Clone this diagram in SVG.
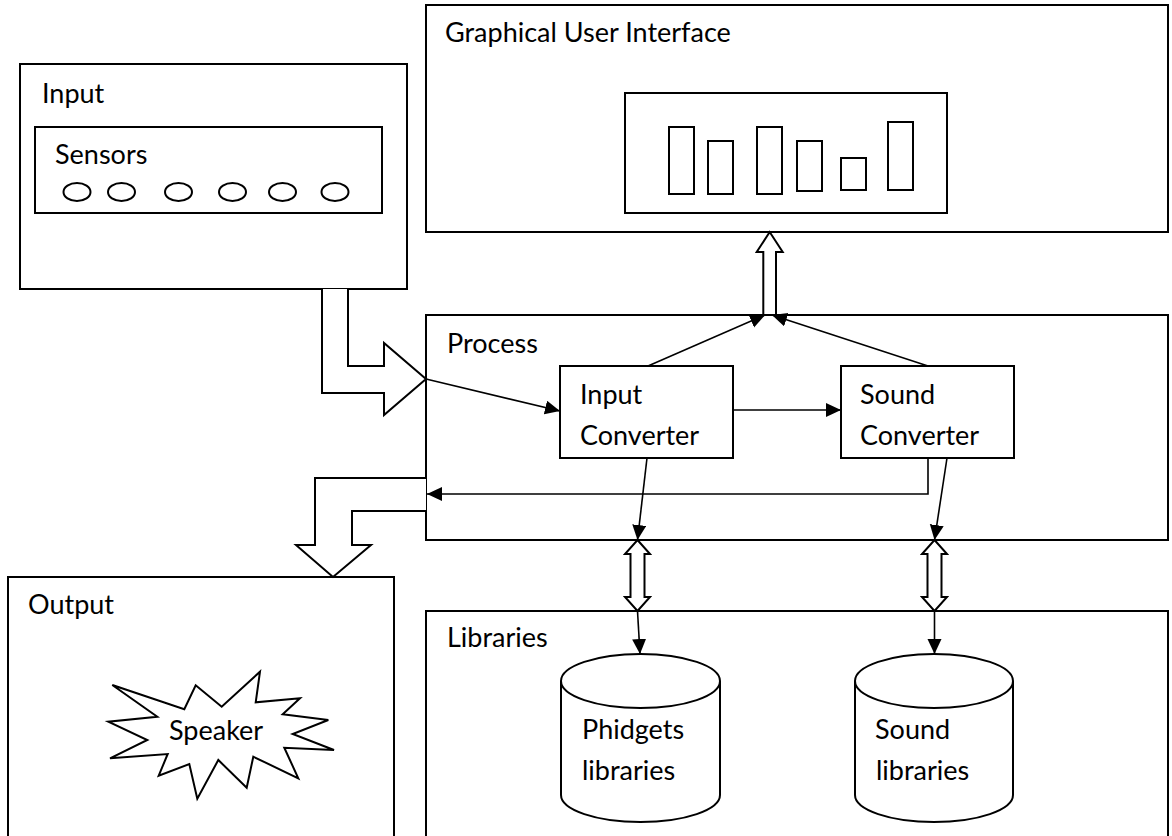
<svg xmlns="http://www.w3.org/2000/svg" width="1172" height="836" viewBox="0 0 1172 836">
<style>
.box{fill:#fff;stroke:#000;stroke-width:2}
.thin{fill:none;stroke:#000;stroke-width:1.6}
.hollow{fill:#fff;stroke:#000;stroke-width:2;stroke-linejoin:miter}
.lbl{font-family:Lato,"Open Sans","Liberation Sans",sans-serif;font-size:27px;fill:#000}
</style>
<defs>
<marker id="ah" markerUnits="userSpaceOnUse" markerWidth="16" markerHeight="15" refX="15" refY="7" orient="auto">
<path d="M0,0 L15,7 L0,14 z" fill="#000"/>
</marker>
</defs>
<rect width="1172" height="836" fill="#fff"/>

<g id="gui">
<rect class="box" x="426" y="5" width="742" height="227"/>
<text class="lbl" x="445" y="42">Graphical User Interface</text>
<rect class="box" x="625" y="93" width="322" height="120"/>
<rect class="box" x="669" y="127" width="25" height="67"/>
<rect class="box" x="708" y="141" width="25" height="53"/>
<rect class="box" x="757" y="127" width="25" height="67"/>
<rect class="box" x="797" y="141" width="25" height="50"/>
<rect class="box" x="841" y="158" width="25" height="32"/>
<rect class="box" x="888" y="122" width="25" height="68"/>
</g>

<g id="input">
<rect class="box" x="20" y="64" width="387" height="225"/>
<text class="lbl" x="42" y="103">Input</text>
<rect class="box" x="35" y="127" width="347" height="86"/>
<text class="lbl" x="55" y="164">Sensors</text>
<ellipse class="box" cx="77" cy="192" rx="13.5" ry="9"/>
<ellipse class="box" cx="121.5" cy="192" rx="13.5" ry="9"/>
<ellipse class="box" cx="178.5" cy="192" rx="13.5" ry="9"/>
<ellipse class="box" cx="232.5" cy="192" rx="13.5" ry="9"/>
<ellipse class="box" cx="282.5" cy="192" rx="13.5" ry="9"/>
<ellipse class="box" cx="335" cy="192" rx="13.5" ry="9"/>
</g>

<g id="process">
<rect class="box" x="426" y="315" width="742" height="225"/>
<text class="lbl" x="447" y="353">Process</text>
</g>

<g id="input-converter">
<rect class="box" x="560" y="366" width="173" height="92"/>
<text class="lbl" x="580" y="404">Input</text>
<text class="lbl" x="580" y="445">Converter</text>
</g>

<g id="sound-converter">
<rect class="box" x="841" y="366" width="173" height="92"/>
<text class="lbl" x="860" y="404">Sound</text>
<text class="lbl" x="860" y="445">Converter</text>
</g>

<g id="output">
<rect class="box" x="8" y="577" width="386" height="270"/>
<text class="lbl" x="28" y="614">Output</text>
<polygon class="box" points="112.3,685 184.3,709.3 195.7,685.3 221.7,706.7 260,671.7 255.7,702.3 300,698.3 282.7,714.3 328.3,720 292.7,734 334,750 284.3,747.7 298.3,778.3 253.3,756.7 246.7,787.7 218.3,760 197.3,798.7 189.3,764 158.7,775.7 167.7,754 110,758.3 147.3,740 108.3,721.7 157.3,716.7"/>
<text class="lbl" x="169" y="740">Speaker</text>
</g>

<g id="libraries">
<rect class="box" x="426" y="611" width="742" height="240"/>
<text class="lbl" x="447" y="647">Libraries</text>
</g>

<g id="phidgets-libraries">
<path class="box" d="M561,681 A79.5,27 0 0 1 720,681 L720,795 A79.5,27 0 0 1 561,795 Z"/>
<path class="thin" style="stroke-width:2" d="M561,681 A79.5,27 0 0 0 720,681"/>
<text class="lbl" x="582" y="739">Phidgets</text>
<text class="lbl" x="582" y="780">libraries</text>
</g>

<g id="sound-libraries">
<path class="box" d="M855,681 A79,27 0 0 1 1013,681 L1013,795 A79,27 0 0 1 855,795 Z"/>
<path class="thin" style="stroke-width:2" d="M855,681 A79,27 0 0 0 1013,681"/>
<text class="lbl" x="875" y="739">Sound</text>
<text class="lbl" x="876" y="780">libraries</text>
</g>

<g id="connectors">
<polyline class="hollow" points="322,289 322,393 384,393 384,415 426,379 384,343 384,366 348,366 348,289"/>
<polyline class="hollow" points="426,478 315,478 315,545 296,545 333,577 371,545 352,545 352,511 426,511"/>
<polygon class="hollow" points="763.3,315 763.3,252 756.7,252 769.7,232 782.7,252 776,252 776,315"/>
<polygon class="hollow" points="637.5,540 650,554 644.5,554 644.5,597 650,597 637.5,611 625,597 630.5,597 630.5,554 625,554"/>
<polygon class="hollow" points="934.5,540 947,554 941.5,554 941.5,597 947,597 934.5,611 922,597 927.5,597 927.5,554 922,554"/>
<line class="thin" x1="426" y1="379" x2="560" y2="411" marker-end="url(#ah)"/>
<line class="thin" x1="733" y1="410" x2="841" y2="410" marker-end="url(#ah)"/>
<line class="thin" x1="648" y1="366" x2="765" y2="315" marker-end="url(#ah)"/>
<line class="thin" x1="928" y1="366" x2="772" y2="315" marker-end="url(#ah)"/>
<polyline class="thin" points="928,458 928,494 427,494" marker-end="url(#ah)"/>
<line class="thin" x1="647" y1="458" x2="637.5" y2="540" marker-end="url(#ah)"/>
<line class="thin" x1="947" y1="458" x2="934.5" y2="540" marker-end="url(#ah)"/>
<line class="thin" x1="637.5" y1="611" x2="640" y2="654" marker-end="url(#ah)"/>
<line class="thin" x1="934.5" y1="611" x2="934.5" y2="654" marker-end="url(#ah)"/>
</g>
</svg>
